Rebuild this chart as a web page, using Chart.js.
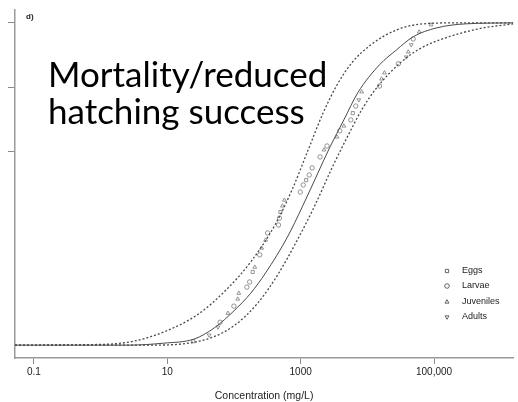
<!doctype html>
<html lang="en">
<head>
  <meta charset="utf-8">
  <title>Mortality / reduced hatching success</title>
  <script src="https://cdn.jsdelivr.net/npm/chart.js@4"></script>
  <style>
    body { margin: 0; background: #fff; }
    #wrap { width: 518px; height: 402px; }
  </style>
</head>
<body>
  <div id="wrap"><canvas id="canvas" width="518" height="402"></canvas></div>
  <script>
    // axis ticks
    var concTicks = [0.1, 10, 1000, 100000];
    var concTickLabels = ['0.1', '10', '1000', '100,000'];
    var fracTicks = [0.6, 0.8, 1.0];

    // fitted curve and its bounds (concentration mg/L, fraction affected)
    var fitX = [0.052, 2.65, 8.8, 25.4, 50.3, 103, 178, 298, 632, 1057, 1706, 2754, 4446, 7178, 15240, 27290, 48750, 107100, 298500, 1540000];
    var fitY = [0, 0, 0.006, 0.019, 0.053, 0.109, 0.161, 0.224, 0.335, 0.429, 0.522, 0.615, 0.699, 0.783, 0.870, 0.916, 0.957, 0.984, 0.997, 1.0];
    var upperX = [0.052, 0.95, 2.94, 9.4, 29.1, 75.9, 178, 420, 750, 1297, 2168, 3500, 5850, 10820, 27240, 68700, 212300, 1540000];
    var upperY = [0, 0.002, 0.011, 0.043, 0.096, 0.171, 0.258, 0.376, 0.484, 0.606, 0.720, 0.807, 0.876, 0.929, 0.978, 0.997, 1.0, 1.0];
    var lowerX = [0.052, 5.26, 20.7, 48.6, 103, 226, 449, 890, 1648, 2950, 4925, 8220, 13740, 32350, 64100, 167100, 534600, 1540000];
    var lowerY = [0, 0, 0.006, 0.025, 0.062, 0.130, 0.217, 0.326, 0.435, 0.550, 0.643, 0.730, 0.798, 0.879, 0.922, 0.957, 0.984, 0.997];

    // observations by life stage
    var eggsX = [24.5, 191, 498, 1211, 6053];
    var eggsY = [0.012, 0.227, 0.413, 0.512, 0.720];
    var larvaeX = [61.7, 99.7, 156, 172, 243, 319, 465, 481, 986, 1094, 1343, 1487, 1955, 2485, 3874, 5649, 6700, 15240, 29170, 48750];
    var larvaeY = [0.071, 0.121, 0.180, 0.196, 0.280, 0.348, 0.373, 0.394, 0.475, 0.497, 0.528, 0.550, 0.584, 0.618, 0.665, 0.699, 0.742, 0.804, 0.873, 0.950];
    var juvX = [81.2, 114, 118, 205, 260, 298, 533, 571, 2243, 3499, 4446, 8225, 16300, 18070, 41100, 59850, 90200];
    var juvY = [0.099, 0.143, 0.161, 0.242, 0.301, 0.326, 0.432, 0.450, 0.606, 0.646, 0.680, 0.786, 0.826, 0.845, 0.910, 0.972, 0.994];
    var adultsX = [42.4, 57.6, 7430, 38370, 45500];
    var adultsY = [0.031, 0.056, 0.761, 0.894, 0.932];

    function pts(xs, ys) {
      return xs.map(function (x, i) { return { x: x, y: ys[i] }; });
    }

    function curve(label, xs, ys, dash) {
      return {
        label: label,
        data: pts(xs, ys),
        showLine: true,
        borderColor: '#4a4a4a',
        borderWidth: dash ? 1.3 : 1,
        borderDash: dash ? [2, 2] : [],
        pointRadius: 0,
        cubicInterpolationMode: 'monotone'
      };
    }

    function stage(label, xs, ys, style, rot) {
      return {
        label: label,
        data: pts(xs, ys),
        showLine: false,
        pointStyle: style,
        rotation: rot,
        pointRadius: 2.2,
        borderWidth: 0.8,
        borderColor: '#7a7a7a',
        backgroundColor: 'rgba(255,255,255,0)',
        isStage: true
      };
    }

    // text overlays and legend
    var overlay = {
      id: 'overlay',
      afterDraw: function (chart) {
        var ctx = chart.ctx;
        ctx.save();
        ctx.fillStyle = '#222';
        ctx.font = 'bold 8px "Liberation Sans"';
        ctx.textBaseline = 'middle';
        ctx.fillText('d)', 26, 17);

        ctx.fillStyle = '#000';
        ctx.font = '35px Lato';
        ctx.textBaseline = 'alphabetic';
        ctx.fillText('Mortality/reduced', 48, 87);
        ctx.fillText('hatching success', 48, 124);

        var rowY = [271, 286, 302, 317];
        var k = 0;
        chart.data.datasets.forEach(function (ds) {
          if (!ds.isStage) return;
          ctx.fillStyle = 'rgba(255,255,255,0)';
          ctx.strokeStyle = '#555';
          ctx.lineWidth = 0.9;
          Chart.helpers.drawPoint(ctx, {
            pointStyle: ds.pointStyle, rotation: ds.rotation,
            radius: 2.3, borderWidth: 0.9
          }, 447, rowY[k]);
          ctx.fillStyle = '#222';
          ctx.font = '9px "Liberation Sans"';
          ctx.textBaseline = 'middle';
          ctx.fillText(ds.label, 462, rowY[k]);
          k++;
        });
        ctx.restore();
      }
    };

    new Chart(document.getElementById('canvas'), {
      type: 'scatter',
      data: {
        datasets: [
          curve('Fit', fitX, fitY, false),
          curve('Upper', upperX, upperY, true),
          curve('Lower', lowerX, lowerY, true),
          stage('Eggs', eggsX, eggsY, 'rect', 0),
          stage('Larvae', larvaeX, larvaeY, 'circle', 0),
          stage('Juveniles', juvX, juvY, 'triangle', 0),
          stage('Adults', adultsX, adultsY, 'triangle', 180)
        ]
      },
      options: {
        responsive: false,
        animation: false,
        layout: { padding: { top: 10, right: 0, left: 0, bottom: 0 } },
        plugins: { legend: { display: false }, tooltip: { enabled: false } },
        scales: {
          x: {
            type: 'logarithmic',
            min: 0.052,
            max: 1540000,
            afterBuildTicks: function (scale) {
              scale.ticks = concTicks.map(function (v) { return { value: v }; });
            },
            afterFit: function (scale) { scale.height = 44; },
            ticks: {
              color: '#222',
              font: { family: '"Liberation Sans"', size: 10 },
              padding: 2,
              maxRotation: 0,
              autoSkip: false,
              callback: function (v) {
                var i = concTicks.indexOf(v);
                return i >= 0 ? concTickLabels[i] : '';
              }
            },
            grid: { drawOnChartArea: false, drawTicks: true, tickLength: 6, color: '#8a8a8a', lineWidth: 1 },
            border: { display: true, color: '#9a9a9a', width: 1.5 },
            title: {
              display: true,
              text: 'Concentration (mg/L)',
              color: '#222',
              font: { family: '"Liberation Sans"', size: 10.5 },
              padding: { top: 1, bottom: 0 }
            }
          },
          y: {
            type: 'linear',
            min: -0.04,
            max: 1.04,
            afterBuildTicks: function (scale) {
              scale.ticks = fracTicks.map(function (v) { return { value: v }; });
            },
            afterFit: function (scale) { scale.width = 15; },
            ticks: { display: false },
            grid: { drawOnChartArea: false, drawTicks: true, tickLength: 7, color: '#8a8a8a', lineWidth: 1 },
            border: { display: true, color: '#9a9a9a', width: 1.5 }
          }
        }
      },
      plugins: [overlay]
    });
  </script>
</body>
</html>
